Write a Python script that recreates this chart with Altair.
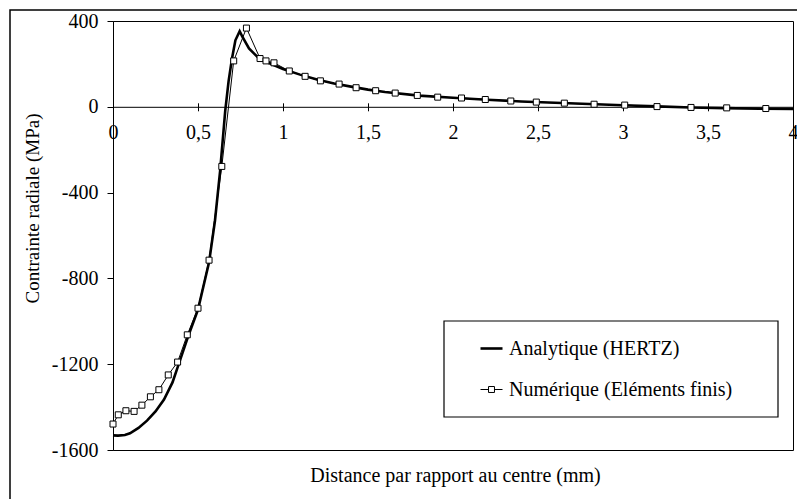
import altair as alt
import pandas as pd

SERIES = ["Analytique (HERTZ)", "Numérique (Eléments finis)"]

# Analytical (Hertz) curve
ana_x = [0, 0.03, 0.07, 0.1, 0.15, 0.2, 0.25, 0.3, 0.35, 0.38, 0.44, 0.5, 0.565,
         0.6, 0.63, 0.66, 0.68, 0.70, 0.72, 0.745, 0.76, 0.8, 0.85, 0.9, 1.0,
         1.1, 1.2, 1.3, 1.4, 1.5, 1.6, 1.8, 2.0, 2.2, 2.4, 2.6, 2.8, 3.0, 3.2,
         3.4, 3.6, 3.8, 4.0]
ana_y = [-1532, -1533, -1530, -1522, -1497, -1463, -1420, -1365, -1285, -1215,
         -1075, -945, -725, -530, -300, -20, 120, 225, 310, 352, 328, 272, 232,
         210, 176, 150, 127, 109, 94, 80, 69, 52, 42, 33, 25, 19, 13, 7, 2,
         -3, -6, -9, -10]

# Numerical (finite elements) points
num_x = [0, 0.031, 0.076, 0.124, 0.17, 0.22, 0.27, 0.325, 0.38, 0.437, 0.50,
         0.565, 0.64, 0.71, 0.785, 0.865, 0.90, 0.947, 1.037, 1.13, 1.22, 1.33,
         1.43, 1.545, 1.66, 1.79, 1.91, 2.05, 2.19, 2.34, 2.49, 2.655, 2.83,
         3.01, 3.20, 3.40, 3.61, 3.84]
num_y = [-1479, -1436, -1417, -1420, -1391, -1352, -1319, -1250, -1190, -1063,
         -939, -715, -278, 214, 367, 225, 214, 205, 167, 142, 121, 106, 89, 75,
         64, 53, 45, 41, 34, 27, 22, 17, 12, 8, 1, -3, -5, -8]

x_ticks = [0, 0.5, 1, 1.5, 2, 2.5, 3, 3.5, 4]
y_ticks = [-1600, -1200, -800, -400, 0, 400]

df = pd.concat([
    pd.DataFrame({"x": ana_x, "y": ana_y, "series": SERIES[0]}),
    pd.DataFrame({"x": num_x, "y": num_y, "series": SERIES[1]}),
], ignore_index=True)
num_df = pd.DataFrame({"x": num_x, "y": num_y})

FONT = "Liberation Serif"
W, H = 680, 429
ZERO_OFF = 85.8  # pixel position of y=0 from top of plot

xscale = alt.Scale(domain=[0, 4], nice=False, zero=False)
yscale = alt.Scale(domain=[-1600, 400], nice=False, zero=False)

x_enc = alt.X("x:Q", scale=xscale, axis=alt.Axis(
    values=x_ticks, orient="bottom", offset=ZERO_OFF - H,
    labelExpr="replace('' + datum.value, '.', ',')",
    labelFont=FONT, labelFontSize=20, labelColor="black",
    labelBaseline="middle", labelPadding=22, labelFlush=False,
    labelBound=False, labelOverlap=False,
    tickSize=4, tickColor="black", domainColor="black",
    title="Distance par rapport au centre (mm)", titleFont=FONT,
    titleFontSize=20, titleFontWeight="normal", titleColor="black",
    titleX=342, titleY=369, titleAlign="center", titleBaseline="middle",
    grid=False,
))
y_enc = alt.Y("y:Q", scale=yscale, axis=alt.Axis(
    values=y_ticks, labelExpr="'' + datum.value",
    labelFont=FONT, labelFontSize=20, labelColor="black",
    labelPadding=9, tickSize=6, tickColor="black", domainColor="black",
    title="Contrainte radiale (MPa)", titleFont=FONT, titleFontSize=19,
    titleFontWeight="normal", titleColor="black",
    titleX=-81, titleY=187, titleAngle=270, titleAlign="center",
    titleBaseline="middle", grid=False,
))

path_a = "M-1,0H1"
path_n = "M-1,0H-0.27M0.27,0H1M-0.27,-0.27H0.27V0.27H-0.27Z"

legend = alt.Legend(
    orient="none", legendX=366, legendY=315, title=None, padding=0,
    labelFont=FONT, labelFontSize=20, labelColor="black", labelLimit=500,
    symbolSize=484, rowPadding=19, labelOffset=5,
    symbolStrokeColor="black", symbolFillColor="white", symbolOpacity=1,
)

one = pd.DataFrame({"a": [0]})
outer = alt.Chart(one).mark_rect(fill="white", fillOpacity=0, stroke="black",
                                 strokeWidth=1.5).encode(
    x=alt.value(-103), x2=alt.value(720), y=alt.value(-11), y2=alt.value(520))
legend_box = alt.Chart(one).mark_rect(fill="white", fillOpacity=0, stroke="black",
                                      strokeWidth=1.2).encode(
    x=alt.value(331), x2=alt.value(665), y=alt.value(300), y2=alt.value(396))

lines = alt.Chart(df).mark_line().encode(
    x=x_enc, y=y_enc,
    color=alt.Color("series:N", scale=alt.Scale(domain=SERIES, range=["black", "black"]),
                    legend=legend),
    strokeWidth=alt.StrokeWidth("series:N", scale=alt.Scale(domain=SERIES, range=[2.6, 1]),
                                legend=legend),
)

# empty layer that only carries the legend symbol shapes
legend_shapes = alt.Chart(df).transform_filter("false").mark_point(
    filled=True, fill="white", stroke="black", opacity=1,
).encode(
    x=alt.X("x:Q", scale=xscale, axis=None),
    y=alt.Y("y:Q", scale=yscale),
    shape=alt.Shape("series:N", scale=alt.Scale(domain=SERIES, range=[path_a, path_n]),
                    legend=legend),
)

# upward half of the crossing ticks on the zero line
ticks_up = alt.Chart(num_df).mark_point(opacity=0).encode(
    x=alt.X("x:Q", scale=xscale, axis=alt.Axis(
        values=x_ticks, orient="top", offset=-ZERO_OFF, labels=False,
        domain=False, tickSize=4, tickColor="black", title=None, grid=False)),
)

points = alt.Chart(num_df).mark_point(
    shape="square", filled=True, fill="white", stroke="black",
    strokeWidth=1, size=36, opacity=1,
).encode(x=alt.X("x:Q", scale=xscale, axis=None), y=alt.Y("y:Q", scale=yscale))

chart = alt.layer(outer, lines, legend_shapes, ticks_up, points, legend_box).resolve_axis(
    x="independent"
).properties(
    width=W, height=H,
    autosize=alt.AutoSizeParams(type="none"),
    padding={"left": 105, "top": 13, "right": 4, "bottom": 49},
    background="white",
).configure_view(stroke="black", strokeWidth=1)

chart.save("out.html", embed_options={"renderer": "svg", "actions": False})
